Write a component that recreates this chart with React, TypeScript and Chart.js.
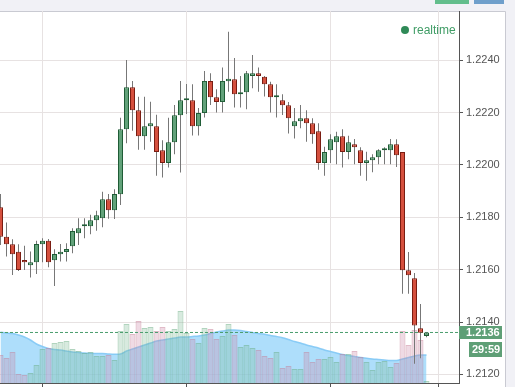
import React, { useEffect, useRef } from "react";
import { Chart, registerables } from "chart.js";

Chart.register(...registerables);

// ---- data (30-minute candles, EUR/USD style) ----
const openPrices = [
  1.21838, 1.21726, 1.21697, 1.21668, 1.21637, 1.21617, 1.21628, 1.21697, 1.2171, 1.21636,
  1.21659, 1.21667, 1.21689, 1.21739, 1.21766, 1.21766, 1.21789, 1.21796, 1.21869, 1.21827,
  1.21888, 1.22136, 1.22297, 1.22209, 1.2211, 1.22148, 1.22148, 1.22056, 1.22007, 1.22087,
  1.2219, 1.22247, 1.22247, 1.22148, 1.22198, 1.22321, 1.22259, 1.2224, 1.2232, 1.22327,
  1.2227, 1.22278, 1.2234, 1.2235, 1.22337, 1.22308, 1.22259, 1.22247, 1.22228, 1.22148,
  1.22167, 1.22178, 1.22159, 1.22129, 1.22007, 1.22056, 1.22087, 1.2211, 1.22049, 1.22079,
  1.22056, 1.22007, 1.22018, 1.22029, 1.22056, 1.22056, 1.22079, 1.22049, 1.21598, 1.21567,
  1.21376, 1.21347,
];
const closePrices = [
  1.21726, 1.21697, 1.21659, 1.21599, 1.21628, 1.21628, 1.21698, 1.2171, 1.21628, 1.2166,
  1.21668, 1.21679, 1.21748, 1.21758, 1.21766, 1.21789, 1.21808, 1.21869, 1.21827, 1.21889,
  1.22136, 1.22297, 1.22209, 1.2211, 1.22148, 1.22159, 1.22049, 1.22007, 1.22087, 1.2219,
  1.22247, 1.22247, 1.22148, 1.22198, 1.22321, 1.22259, 1.2224, 1.22321, 1.22329, 1.2227,
  1.22278, 1.2235, 1.2235, 1.2234, 1.22308, 1.22259, 1.22259, 1.22228, 1.22178, 1.22167,
  1.22178, 1.22159, 1.22117, 1.22007, 1.22049, 1.22098, 1.2211, 1.22049, 1.22087, 1.22068,
  1.22007, 1.22018, 1.22029, 1.22056, 1.22056, 1.22079, 1.22037, 1.21598, 1.21579, 1.21387,
  1.21359, 1.2136,
];
const highPrices = [
  1.21889, 1.2178, 1.21716, 1.21697, 1.21691, 1.21669, 1.2171, 1.2172, 1.21717, 1.21678,
  1.21698, 1.21701, 1.21758, 1.21796, 1.21796, 1.2181, 1.21825, 1.21898, 1.21889, 1.21907,
  1.2218, 1.22401, 1.22321, 1.2226, 1.2226, 1.22241, 1.22192, 1.22094, 1.2218, 1.22229,
  1.22321, 1.22309, 1.22308, 1.22217, 1.22359, 1.2235, 1.22289, 1.22372, 1.22509, 1.22408,
  1.2234, 1.22359, 1.2242, 1.22372, 1.2234, 1.22318, 1.22308, 1.2227, 1.2224, 1.22217,
  1.22229, 1.22209, 1.22178, 1.22159, 1.22069, 1.22117, 1.22127, 1.22136, 1.22111, 1.22099,
  1.22068, 1.2205, 1.22041, 1.2206, 1.22068, 1.22099, 1.22098, 1.22049, 1.21667, 1.21587,
  1.21469, 1.21362,
];
const lowPrices = [
  1.21694, 1.2165, 1.2158, 1.21595, 1.21599, 1.2157, 1.21583, 1.21628, 1.21609, 1.21538,
  1.21631, 1.21631, 1.21663, 1.21694, 1.2172, 1.21735, 1.21749, 1.21762, 1.21794, 1.21793,
  1.21847, 1.22083, 1.22131, 1.22058, 1.22058, 1.22089, 1.21959, 1.21952, 1.2199, 1.22041,
  1.21971, 1.22195, 1.22112, 1.22112, 1.22181, 1.22229, 1.222, 1.222, 1.2228, 1.22219,
  1.22219, 1.22213, 1.22293, 1.2228, 1.22261, 1.222, 1.22181, 1.22191, 1.2212, 1.22101,
  1.2214, 1.22089, 1.22081, 1.21982, 1.21959, 1.22007, 1.22003, 1.2199, 1.22022, 1.22003,
  1.21959, 1.2194, 1.21972, 1.22003, 1.22003, 1.22003, 1.21992, 1.21508, 1.21508, 1.21241,
  1.21262, 1.21342,
];
const volumes = [
  28, 25, 31, 9, 8, 10, 18, 34, 35, 40,
  41, 42, 34, 32, 30, 31, 27, 27, 28, 23,
  52, 59, 49, 62, 55, 56, 52, 56, 52, 54,
  72, 50, 44, 40, 55, 54, 44, 47, 59, 48,
  36, 38, 35, 33, 27, 25, 31, 15, 17, 14,
  14, 31, 21, 24, 24, 26, 21, 29, 29, 32,
  26, 21, 13, 21, 22, 16, 20, 52, 38, 53,
  43, 2,
];
const volumeAvg = [
  50.7, 50, 49.5, 48, 46, 43, 39, 36.5, 34.5, 33.5,
  33, 32, 31, 30.5, 30, 29.7, 29.5, 29.5, 29, 28.7,
  29, 32, 34, 36, 38, 40, 42, 43, 44, 45,
  46, 46, 46.5, 47, 48, 49.5, 51, 52, 53, 53,
  52.5, 51.5, 50.5, 49.5, 48.7, 47.5, 46.5, 45.3, 43.5, 41.5,
  40, 38, 36.5, 35, 33, 31.5, 30, 28.5, 27.5, 26.5,
  25.5, 24.7, 24, 23.5, 23, 22.5, 22.5, 24, 25.5, 27,
  28, 28,
];
const priceTicks = [1.212, 1.214, 1.216, 1.218, 1.22, 1.222, 1.224];
const timeGridIdx = [7, 31, 55, 73];
const legendLabel = "realtime";
const countdown = "29:59";

const PRICE_MIN = 1.21167;
const PRICE_MAX = 1.22588;
const VOL_MAX = 372;
const X_MIN = -1 / 12;
const X_MAX = X_MIN + 459 / 6;

const W = 515;
const H = 387;

export default function App() {
  const ref = useRef<HTMLCanvasElement | null>(null);

  useEffect(() => {
    document.body.style.margin = "0";
    const canvas = ref.current;
    if (!canvas) return;
    const n = openPrices.length;
    const idx = openPrices.map((_, i) => i);
    const up = idx.map((i) => closePrices[i] >= openPrices[i]);
    const lastClose = closePrices[n - 1];
    const gridColor = "#e7e2e2";
    const axisColor = "#555555";
    const font = "'Liberation Sans', Arial, sans-serif";

    const decor = {
      id: "decor",
      beforeDraw(chart: any) {
        const ctx = chart.ctx;
        ctx.save();
        ctx.fillStyle = "#ffffff";
        ctx.fillRect(0, 0, W, H);
        ctx.fillStyle = "#f1f1f6";
        ctx.fillRect(0, 0, W, 11);
        ctx.fillRect(505, 0, 10, H);
        ctx.strokeStyle = "#c9cad2";
        ctx.lineWidth = 1;
        ctx.beginPath();
        ctx.moveTo(0, 11.5);
        ctx.lineTo(505.5, 11.5);
        ctx.moveTo(505.5, 11.5);
        ctx.lineTo(505.5, H);
        ctx.stroke();
        ctx.fillStyle = "#63be8c";
        ctx.fillRect(435, 0, 34, 4);
        ctx.fillStyle = "#6f9fcb";
        ctx.fillRect(474, 0, 30, 4);
        ctx.restore();
      },
      afterDraw(chart: any) {
        const ctx = chart.ctx;
        const yScale = chart.scales.y;
        const area = chart.chartArea;
        const y = yScale.getPixelForValue(lastClose);
        ctx.save();
        ctx.fillStyle = "#2f8a57";
        ctx.beginPath();
        ctx.arc(405, 30, 4, 0, Math.PI * 2);
        ctx.fill();
        ctx.fillStyle = "#3f9c65";
        ctx.font = `12px ${font}`;
        ctx.textBaseline = "middle";
        ctx.textAlign = "left";
        ctx.fillText(legendLabel, 413, 30.5);
        ctx.fillStyle = "#5e9f76";
        ctx.fillRect(area.right, Math.round(y) - 6, 43, 13);
        ctx.fillRect(469, Math.round(y) + 10, 33, 15);
        ctx.fillStyle = "#ffffff";
        ctx.font = `bold 11px ${font}`;
        ctx.fillText(lastClose.toFixed(4), 466, Math.round(y) + 0.5);
        ctx.fillText(countdown, 472, Math.round(y) + 18);
        ctx.restore();
      },
    };

    const chart = new Chart(canvas, {
      type: "bar",
      data: {
        datasets: [
          {
            type: "bar",
            label: "body",
            data: idx.map((i) => ({ x: i, y: [openPrices[i], closePrices[i]] })) as any,
            backgroundColor: idx.map((i) => (up[i] ? "#62a27a" : "#d5503e")),
            borderColor: idx.map((i) => (up[i] ? "#1f5c36" : "#7a1d12")),
            borderWidth: 1,
            borderSkipped: false,
            barThickness: 5,
            minBarLength: 2,
            grouped: false,
            inflateAmount: 0,
            yAxisID: "y",
            order: 0,
          } as any,
          {
            type: "bar",
            label: "wick",
            data: idx.map((i) => ({ x: i, y: [lowPrices[i], highPrices[i]] })) as any,
            backgroundColor: "#777777",
            borderWidth: 0,
            barThickness: 1,
            grouped: false,
            inflateAmount: 0,
            yAxisID: "y",
            order: 1,
          } as any,
          {
            type: "line",
            label: "last",
            data: [
              { x: X_MIN, y: lastClose },
              { x: X_MAX, y: lastClose },
            ],
            borderColor: "#4a9d6c",
            borderWidth: 1,
            borderDash: [3, 2],
            pointRadius: 0,
            yAxisID: "y",
            order: 2,
          } as any,
          {
            type: "bar",
            label: "volume",
            data: idx.map((i) => ({ x: i, y: volumes[i] })) as any,
            backgroundColor: idx.map((i) =>
              up[i] ? "rgba(125,185,150,0.3)" : "rgba(205,140,170,0.32)"
            ),
            borderColor: idx.map((i) =>
              up[i] ? "rgba(100,170,125,0.5)" : "rgba(195,120,145,0.5)"
            ),
            borderWidth: 1,
            borderSkipped: "bottom",
            barThickness: 6,
            grouped: false,
            inflateAmount: 0,
            yAxisID: "v",
            order: 3,
          } as any,
          {
            type: "line",
            label: "volume avg",
            data: idx.map((i) => ({ x: i, y: volumeAvg[i] })),
            borderColor: "rgba(125,198,245,0.85)",
            borderWidth: 1.5,
            backgroundColor: "rgba(140,208,249,0.7)",
            fill: "origin",
            pointRadius: 0,
            tension: 0.3,
            yAxisID: "v",
            order: 4,
          } as any,
        ],
      },
      options: {
        responsive: false,
        animation: false,
        devicePixelRatio: 1,
        layout: { padding: { top: 11, right: 10, left: 0, bottom: 0 } },
        plugins: {
          legend: { display: false },
          tooltip: { enabled: false },
        },
        scales: {
          x: {
            type: "linear",
            min: X_MIN,
            max: X_MAX,
            offset: false,
            afterBuildTicks: (s: any) => {
              s.ticks = timeGridIdx.map((v) => ({ value: v }));
            },
            afterFit: (s: any) => {
              s.height = 4;
              s.paddingLeft = 0;
              s.paddingRight = 0;
            },
            ticks: { display: false },
            grid: {
              color: gridColor,
              tickColor: axisColor,
              tickLength: 4,
              offset: false,
            },
            border: { display: true, color: axisColor, width: 1 },
          },
          y: {
            type: "linear",
            position: "right",
            min: PRICE_MIN,
            max: PRICE_MAX,
            afterBuildTicks: (s: any) => {
              s.ticks = priceTicks.map((v) => ({ value: v }));
            },
            afterFit: (s: any) => {
              s.width = 46;
              s.paddingTop = 0;
              s.paddingBottom = 0;
            },
            ticks: {
              callback: (v: any) => Number(v).toFixed(4),
              color: "#555555",
              font: { family: font, size: 11 },
              padding: 3,
            },
            grid: { color: gridColor, tickColor: axisColor, tickLength: 4 },
            border: { display: true, color: axisColor, width: 1 },
          },
          v: {
            type: "linear",
            display: false,
            min: 0,
            max: VOL_MAX,
          },
        },
      } as any,
      plugins: [decor],
    });
    return () => chart.destroy();
  }, []);

  return (
    <div style={{ width: W, height: H, position: "relative" }}>
      <canvas ref={ref} width={W} height={H} style={{ width: W, height: H, display: "block" }} />
    </div>
  );
}
